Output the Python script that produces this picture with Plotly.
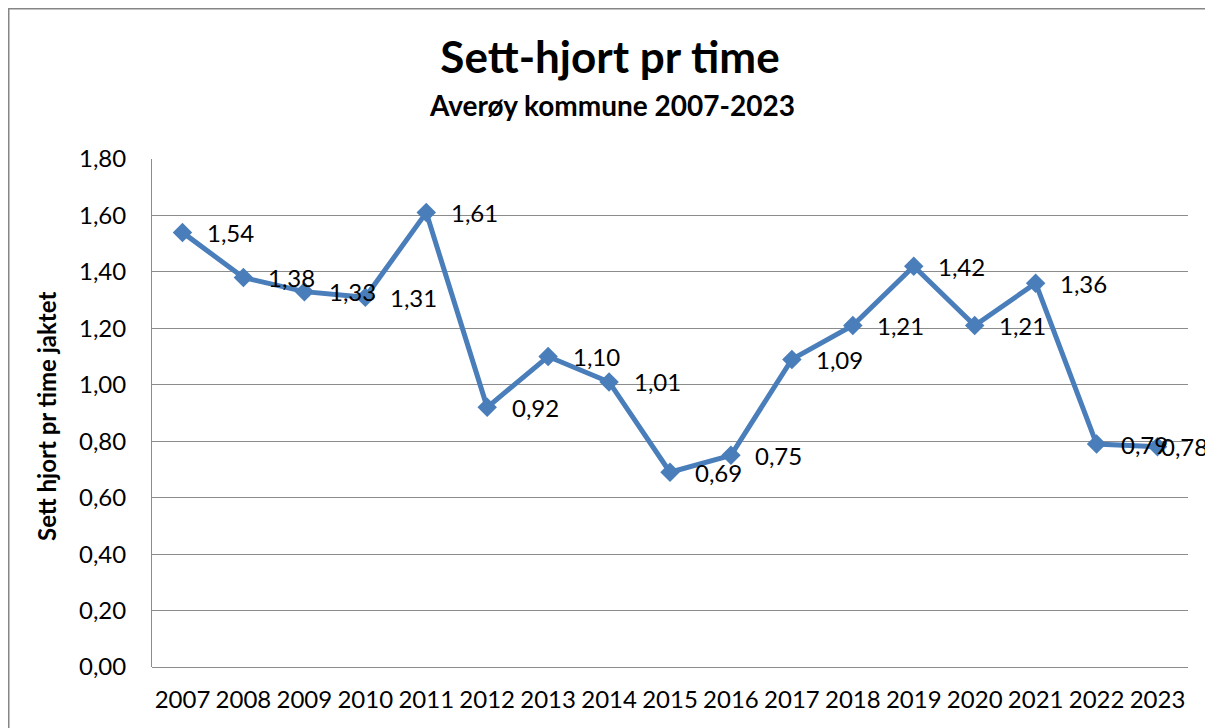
import plotly.graph_objects as go

years = ["2007", "2008", "2009", "2010", "2011", "2012", "2013", "2014", "2015",
         "2016", "2017", "2018", "2019", "2020", "2021", "2022", "2023"]
values = [1.54, 1.38, 1.33, 1.31, 1.61, 0.92, 1.10, 1.01, 0.69,
          0.75, 1.09, 1.21, 1.42, 1.21, 1.36, 0.79, 0.78]
y_ticks = [0.0, 0.2, 0.4, 0.6, 0.8, 1.0, 1.2, 1.4, 1.6, 1.8]

title = "Sett-hjort pr time"
subtitle = "Averøy kommune 2007-2023"
y_title = "Sett hjort pr time jaktet"

# figure size (page has an 8 px body margin)
W, H = 1205, 720
ML, MR, MT, MB = 144, 25, 151, 61
FONT = "Lato, 'Open Sans', sans-serif"
BLUE = "#4A7EBB"
GRID = "#8C8C8C"

def fmt(v):
    return f"{v:.2f}".replace(".", ",")

fig = go.Figure()
fig.add_trace(go.Scatter(
    x=years, y=values, mode="lines+markers",
    line=dict(color=BLUE, width=5),
    marker=dict(symbol="diamond", size=15, color=BLUE),
    hoverinfo="skip", showlegend=False, cliponaxis=False,
))

plot_w = W - ML - MR
ph = H - MT - MB
step = plot_w / len(years)
annotations = []
for i, v in enumerate(values):
    cx = ML + step * (i + 0.5)
    shift = min(48, W - 29 - cx)  # keep label inside the chart area
    annotations.append(dict(
        x=i, y=v, xref="x", yref="y", text=fmt(v), showarrow=False,
        xshift=shift, font=dict(family=FONT, size=24, color="#000000"),
        xanchor="center", yanchor="middle",
    ))

annotations.append(dict(
    x=(604 - ML) / plot_w, y=(H - MB - 97) / ph, xref="paper", yref="paper",
    text=f"<b>{subtitle}</b>", showarrow=False,
    font=dict(family=FONT, size=28, color="#000000"), xanchor="center", yanchor="middle",
))
annotations.append(dict(
    x=(38 - ML) / plot_w, y=(H - MB - 409) / ph, xref="paper", yref="paper",
    text=f"<b>{y_title}</b>", showarrow=False, textangle=-90,
    font=dict(family=FONT, size=24, color="#000000"), xanchor="center", yanchor="middle",
))

fig.add_shape(type="rect", xref="paper", yref="paper",
              x0=(0.75 - ML) / plot_w, x1=(W + 10 - ML) / plot_w,
              y0=(H - MB - (H + 10)) / ph, y1=(H - MB - 0.75) / ph,
              line=dict(color="#868686", width=1.5), fillcolor="rgba(0,0,0,0)", layer="below")

fig.update_layout(
    width=W, height=H,
    margin=dict(l=ML, r=MR, t=MT, b=MB),
    paper_bgcolor="white", plot_bgcolor="white",
    separators=",.",
    title=dict(text=f"<b>{title}</b>", x=602 / W, xanchor="center", xref="container",
               y=1 - 50 / H, yanchor="middle", yref="container",
               font=dict(family=FONT, size=44, color="#000000")),
    annotations=annotations,
    xaxis=dict(type="category", showgrid=False, showline=False, ticks="",
               tickfont=dict(family=FONT, size=24, color="#000000"),
               ticklabelstandoff=16, range=[-0.5, len(years) - 0.5]),
    yaxis=dict(range=[0, 1.8], tickvals=y_ticks, tickformat=".2f",
               showgrid=True, gridcolor=GRID, gridwidth=1,
               showline=True, linecolor=GRID, linewidth=1,
               zeroline=True, zerolinecolor=GRID, zerolinewidth=1,
               ticks="", ticklabelstandoff=20,
               tickfont=dict(family=FONT, size=24, color="#000000")),
)

fig.write_html("out.html")
